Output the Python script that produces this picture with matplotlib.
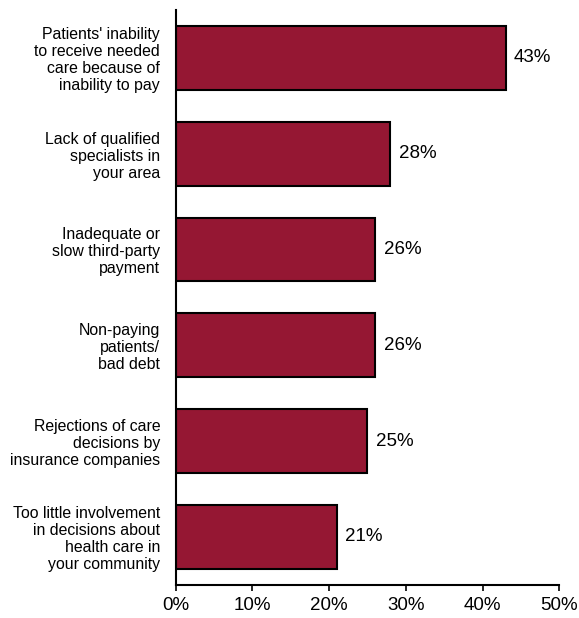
import matplotlib
matplotlib.use("Agg")
import matplotlib.pyplot as plt
from matplotlib.ticker import FuncFormatter

categories = [
    "Patients' inability\nto receive needed\ncare because of\ninability to pay",
    "Lack of qualified\nspecialists in\nyour area",
    "Inadequate or\nslow third-party\npayment",
    "Non-paying\npatients/\nbad debt",
    "Rejections of care\ndecisions by\ninsurance companies",
    "Too little involvement\nin decisions about\nhealth care in\nyour community",
]
values = [43, 28, 26, 26, 25, 21]
x_ticks = [0, 10, 20, 30, 40, 50]

plt.rcParams["font.family"] = ["Liberation Sans", "DejaVu Sans"]

fig = plt.figure(figsize=(5.79, 6.18), dpi=100)
ax = fig.add_axes([175.5 / 579, 1 - 584.7 / 618, (559.3 - 175.5) / 579, (584.7 - 10) / 618])

pos = list(range(len(categories)))
ax.barh(pos, values, height=0.667, color="#951733", edgecolor="black", linewidth=1.5)

for y, v in zip(pos, values):
    ax.text(v + 1.1, y, f"{v}%", va="center", ha="left", fontsize=13.5)

ax.set_ylim(5.5, -0.5)
ax.set_xlim(0, 50)
ax.set_yticks(pos)
ax.set_yticklabels(categories, fontsize=11.4, linespacing=1.16, ha="right")
ax.tick_params(axis="y", length=0, pad=11)
ax.set_xticks(x_ticks)
ax.xaxis.set_major_formatter(FuncFormatter(lambda v, p: f"{int(v)}%"))
ax.tick_params(axis="x", length=4, width=1.2, labelsize=13.5, pad=5)

for s in ("top", "right"):
    ax.spines[s].set_visible(False)
for s in ("left", "bottom"):
    ax.spines[s].set_linewidth(1.5)

fig.savefig("out.png", dpi=100)
